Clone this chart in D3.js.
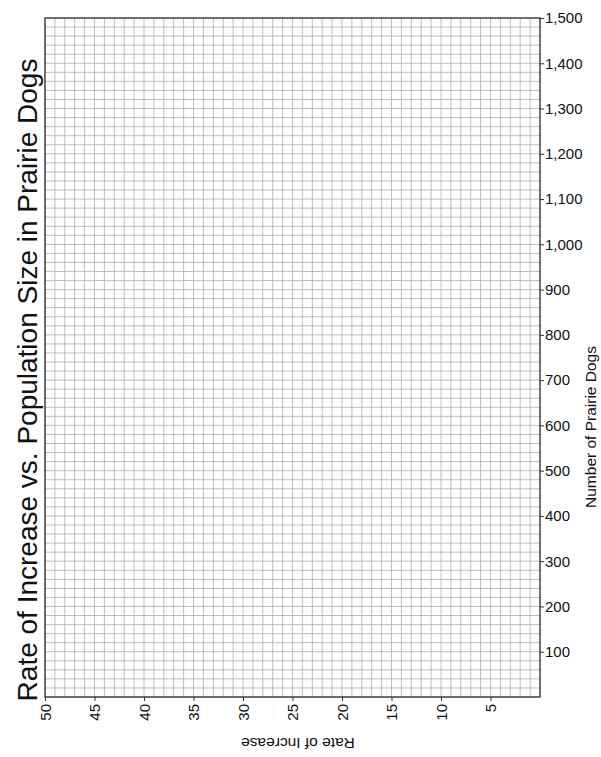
<!DOCTYPE html>
<html>
<head>
<meta charset="utf-8">
<script src="https://cdn.jsdelivr.net/npm/d3@7"></script>
<style>
  body { margin: 0; background: #fff; }
  text { font-family: "Liberation Sans", Arial, sans-serif; fill: #111; }
  .grid line { stroke: #a8a8a8; stroke-width: 0.75; }
</style>
</head>
<body>
<svg id="chart" width="601" height="757"></svg>
<script>
var title = 'Rate of Increase vs. Population Size in Prairie Dogs';
var xLabel = 'Rate of Increase';
var yLabel = 'Number of Prairie Dogs';

var xDomain = [50, 0];
var yDomain = [0, 1500];
var xTicks = [50, 45, 40, 35, 30, 25, 20, 15, 10, 5];
var yTicks = [100, 200, 300, 400, 500, 600, 700, 800, 900, 1000, 1100, 1200, 1300, 1400, 1500];
var xGridStep = 1;   // one cell per unit
var yGridStep = 20;  // five cells per hundred

var margin = {top: 18, right: 61, bottom: 60, left: 45},
    width = 601 - margin.left - margin.right,
    height = 757 - margin.top - margin.bottom;

var svg = d3.select('#chart');
var g = svg.append('g')
           .attr('transform', 'translate(' + margin.left + ',' + margin.top + ')');

var x = d3.scaleLinear().domain(xDomain).range([0, width]),
    y = d3.scaleLinear().domain(yDomain).range([height, 0]);

// graph paper grid
var grid = g.append('g').attr('class', 'grid');

grid.selectAll('.vline')
    .data(d3.range(xDomain[1] + xGridStep, xDomain[0], xGridStep))
    .enter()
    .append('line')
    .attr('x1', function(d) { return x(d); })
    .attr('x2', function(d) { return x(d); })
    .attr('y1', 0)
    .attr('y2', height);

grid.selectAll('.hline')
    .data(d3.range(yDomain[0] + yGridStep, yDomain[1], yGridStep))
    .enter()
    .append('line')
    .attr('y1', function(d) { return y(d); })
    .attr('y2', function(d) { return y(d); })
    .attr('x1', 0)
    .attr('x2', width);

g.append('rect')
 .attr('width', width)
 .attr('height', height)
 .attr('fill', 'none')
 .attr('stroke', '#222')
 .attr('stroke-width', 1.3);

// right axis
var yAxis = d3.axisRight(y)
              .tickValues(yTicks)
              .tickSize(4)
              .tickPadding(1)
              .tickFormat(d3.format(','));

var yAxisG = g.append('g')
              .attr('transform', 'translate(' + width + ',0)')
              .call(yAxis);
yAxisG.select('.domain').remove();
yAxisG.selectAll('line').attr('stroke', '#333');
yAxisG.selectAll('text')
      .attr('font-size', 15)
      .attr('font-family', '"Liberation Sans", Arial, sans-serif')
      .attr('fill', '#111');

// bottom axis, labels turned to read upward
var xAxis = d3.axisBottom(x)
              .tickValues(xTicks)
              .tickSize(4)
              .tickFormat(d3.format('d'));

var xAxisG = g.append('g')
              .attr('transform', 'translate(0,' + height + ')')
              .call(xAxis);
xAxisG.select('.domain').remove();
xAxisG.selectAll('line').attr('stroke', '#333');
xAxisG.selectAll('text')
      .attr('font-size', 15)
      .attr('font-family', '"Liberation Sans", Arial, sans-serif')
      .attr('fill', '#111')
      .attr('text-anchor', 'end')
      .attr('transform', 'rotate(-90)')
      .attr('x', -7)
      .attr('y', 0)
      .attr('dy', '0.35em');

// title on the left
svg.append('text')
   .attr('transform', 'translate(37,' + 380 + ') rotate(-90)')
   .attr('text-anchor', 'middle')
   .attr('font-size', 28)
   .text(title);

// axis titles
svg.append('text')
   .attr('transform', 'translate(596,' + 427 + ') rotate(-90)')
   .attr('text-anchor', 'middle')
   .attr('font-size', 15.5)
   .text(yLabel);

svg.append('text')
   .attr('transform', 'translate(298,' + 738 + ') rotate(180)')
   .attr('text-anchor', 'middle')
   .attr('font-size', 15.5)
   .text(xLabel);
</script>
</body>
</html>
